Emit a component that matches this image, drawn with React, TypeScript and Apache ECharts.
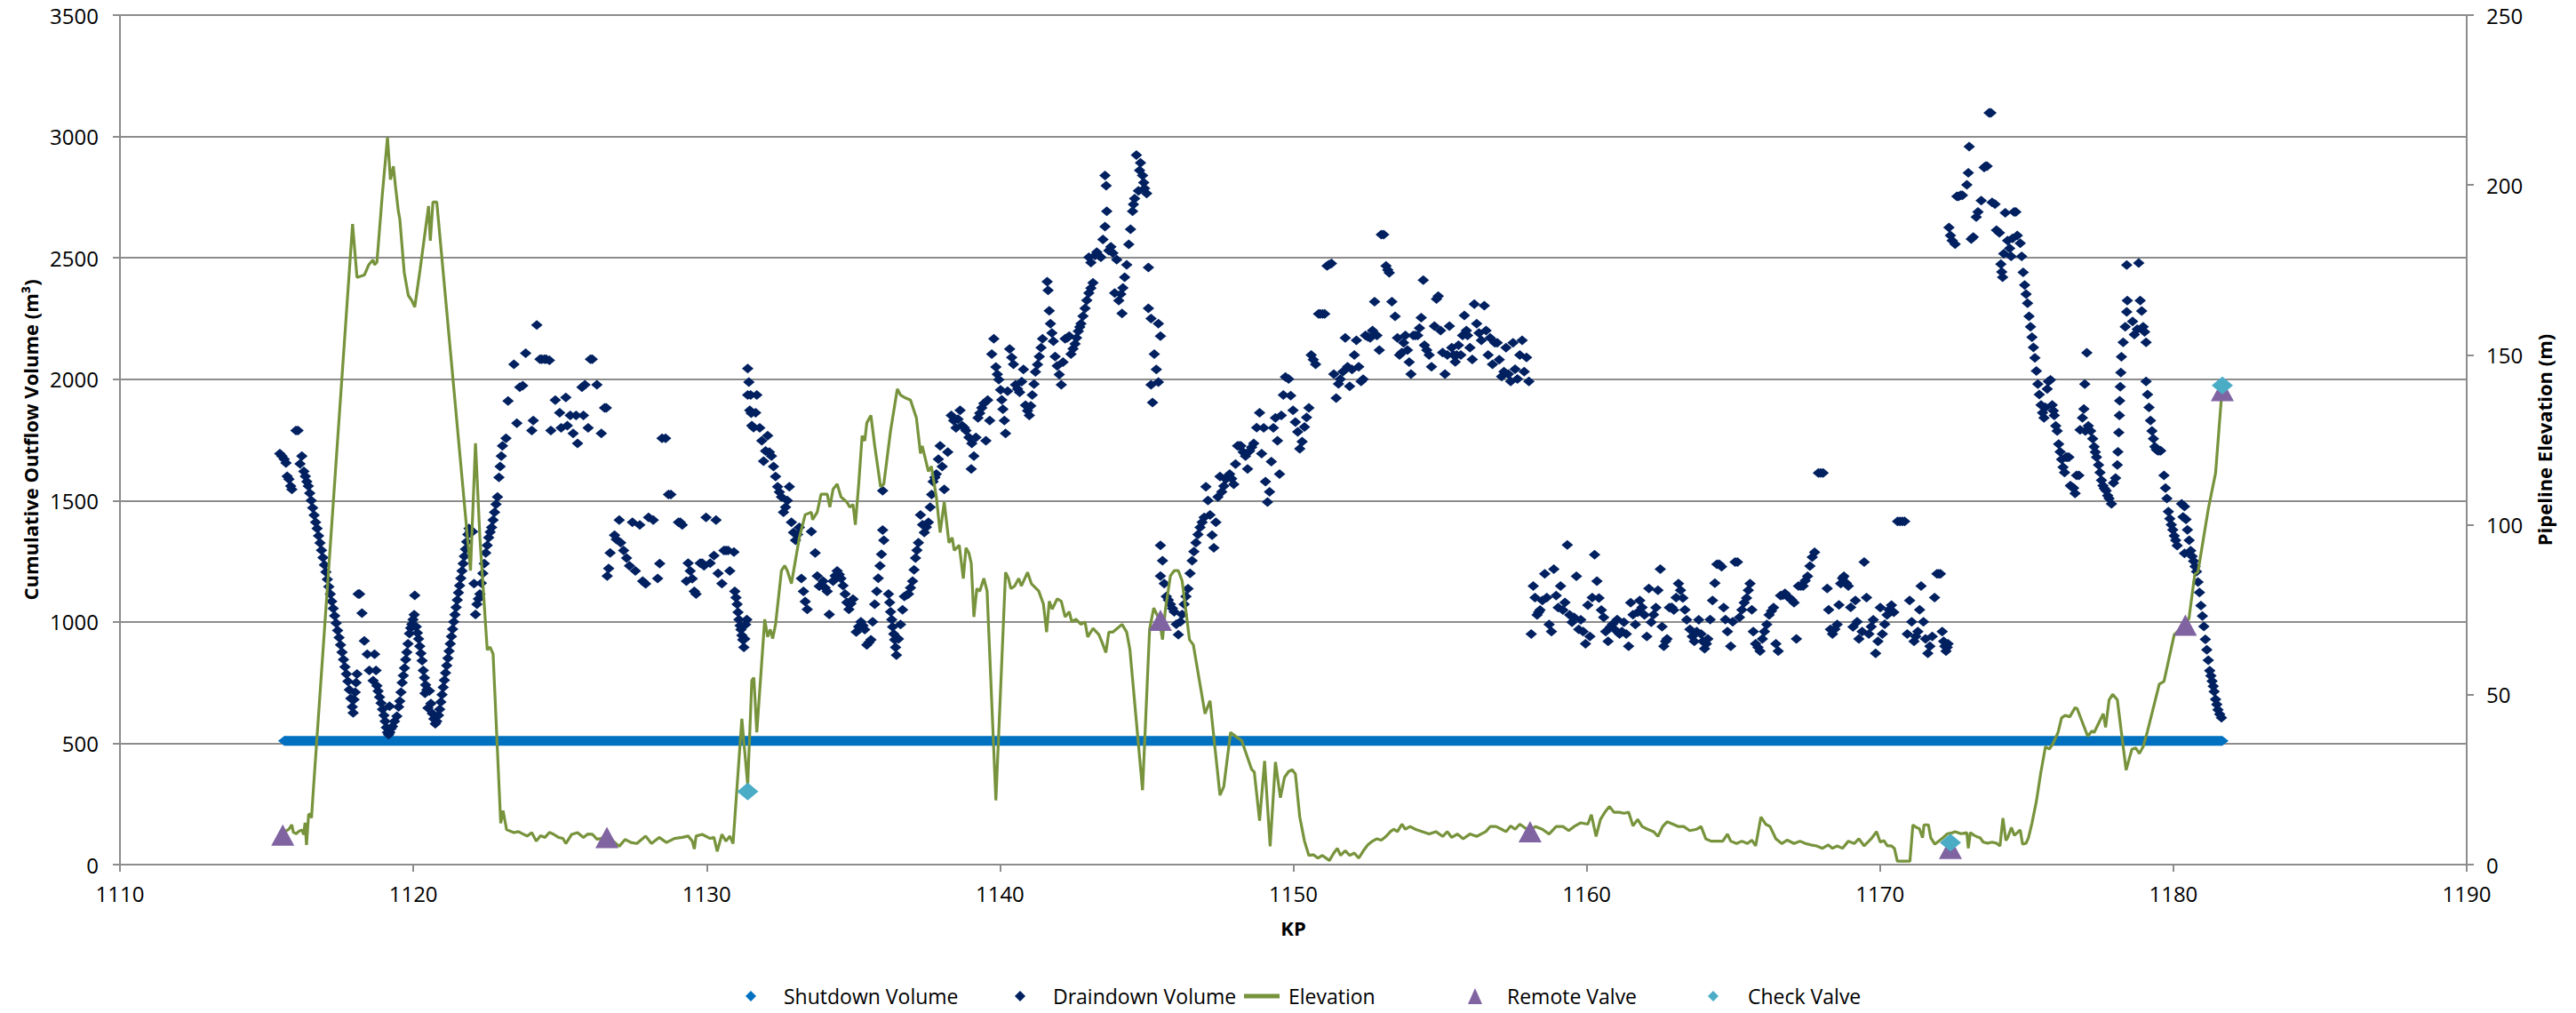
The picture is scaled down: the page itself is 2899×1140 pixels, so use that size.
import React, { useEffect, useRef } from "react";
import * as echarts from "echarts";

// ---- Axis ranges ----
const KP_MIN = 1110;
const KP_MAX = 1190;
const KP_STEP = 10;
const VOL_MIN = 0;
const VOL_MAX = 3500;
const VOL_STEP = 500;
const ELEV_MIN = 0;
const ELEV_MAX = 250;
const ELEV_STEP = 50;

// ---- Shutdown volume (constant along the pipeline) ----
const shutdownVolume = 510;
const shutdownKpRange = [1115.6, 1181.67];

// ---- Draindown volume [KP, m3] ----
const draindownA = [
  [1115.45,1693],[1115.52,1683],[1115.6,1670],[1115.66,1655],[1115.7,1600],[1115.76,1588],[1115.82,1560],[1115.86,1546],
  [1116.0,1788],[1116.07,1788],[1116.14,1651],[1116.2,1683],[1116.27,1620],[1116.32,1600],[1116.37,1578],[1116.42,1560],
  [1116.47,1530],[1116.52,1500],[1116.57,1470],[1116.62,1440],[1116.67,1410],[1116.72,1385],[1116.77,1355],[1116.82,1325],
  [1116.87,1295],[1116.92,1265],[1116.97,1235],[1117.02,1205],[1117.07,1175],[1117.12,1145],[1117.17,1115],[1117.22,1085],
  [1117.27,1055],[1117.32,1025],[1117.37,995],[1117.42,965],[1117.47,935],[1117.52,905],[1117.57,875],[1117.62,845],
  [1117.67,815],[1117.72,785],[1117.77,755],[1117.82,720],[1117.87,685],[1117.92,650],[1117.95,625],
  [1117.98,680],[1118.02,710],[1118.05,750],[1118.08,785],
  [1118.12,1115],[1118.17,1115],[1118.25,1036],[1118.33,922],[1118.43,867],[1118.5,800],[1118.63,758],[1118.68,867],[1118.73,800],[1118.76,737],
  [1118.8,715],[1118.85,690],[1118.9,665],[1118.95,640],[1119.0,615],[1119.04,590],[1119.08,565],[1119.12,545],[1119.16,535],[1119.2,545],
  [1119.24,560],[1119.19,653],[1119.29,569],[1119.36,590],[1119.44,611],
  [1119.5,650],[1119.54,674],[1119.58,710],[1119.62,750],[1119.66,779],[1119.7,810],[1119.74,845],[1119.78,875],[1119.82,910],
  [1119.87,952],[1119.91,975],[1119.95,990],[1119.99,1010],[1120.03,1030],[1120.05,1109],
  [1120.1,980],[1120.14,955],[1120.18,930],[1120.22,900],[1120.26,870],[1120.3,840],[1120.34,800],[1120.38,770],[1120.42,740],
  [1120.46,720],[1120.4,706],[1120.55,716],[1120.5,645],[1120.6,664],[1120.65,622],[1120.7,600],[1120.75,580],[1120.8,590],
  [1120.86,615],[1120.9,640],[1120.94,670],[1120.98,700],[1121.02,730],[1121.06,760],[1121.1,790],[1121.14,820],[1121.18,850],
  [1121.22,880],[1121.26,910],[1121.3,940],[1121.34,970],[1121.38,1000],[1121.42,1030],[1121.46,1060],[1121.5,1090],
  [1121.54,1120],[1121.58,1150],[1121.62,1180],[1121.66,1210],[1121.7,1240],[1121.74,1270],[1121.78,1300],[1121.82,1330],
  [1121.86,1360],[1121.9,1385],[1121.94,1372],
  [1122.02,1372],[1122.07,1158],[1122.12,1031],[1122.17,1073],
  [1122.22,1095],[1122.27,1115],[1122.32,1160],[1122.37,1200],[1122.42,1240],[1122.47,1284],[1122.52,1315],[1122.57,1347],
  [1122.62,1370],[1122.67,1389],[1122.72,1420],[1122.77,1452],[1122.82,1485],[1122.87,1515],[1122.92,1595],[1122.96,1640],
  [1123.0,1683],[1123.04,1725],[1123.16,1756],[1123.23,1910],[1123.43,2061],[1123.53,1819],[1123.63,1967],[1123.73,1973],
  [1123.83,2107],[1124.04,1788],[1124.09,1830],[1124.21,2223],[1124.32,2082],[1124.38,2082],[1124.47,2082],[1124.53,2082],
  [1124.64,2078],[1124.69,1788],[1124.84,1914],[1124.99,1862],[1125.04,1799],[1125.2,1925],[1125.25,1809],[1125.35,1851],
  [1125.45,1777],[1125.55,1851],[1125.6,1735],[1125.75,1967],[1125.8,1851],[1125.85,1977],[1125.96,1799],[1126.04,2082],
  [1126.1,2082],[1126.26,1977],[1126.41,1777],[1126.52,1882],[1126.58,1882],
  [1126.61,1189],[1126.66,1220],[1126.71,1284],[1126.86,1357],[1126.92,1340],[1127.02,1420],[1127.07,1326],[1127.17,1294],
  [1127.27,1263],[1127.37,1231],[1127.47,1410],[1127.57,1210],[1127.72,1399],[1127.82,1168],[1127.92,1157],[1128.02,1431],
  [1128.18,1420],[1128.33,1179],[1128.4,1240],[1128.48,1756],[1128.6,1756],[1128.7,1525],[1128.78,1525]
];

const draindownB = [
  [1129.04,1410],[1129.1,1410],[1129.17,1399],[1129.31,1168],[1129.37,1242],[1129.44,1210],[1129.51,1178],[1129.58,1126],
  [1129.64,1115],[1129.78,1242],[1129.85,1242],[1129.91,1231],[1129.98,1431],[1130.12,1242],[1130.25,1273],[1130.32,1420],
  [1130.39,1200],[1130.52,1158],[1130.59,1294],[1130.66,1294],[1130.73,1294],[1130.79,1210],[1130.93,1288],
  [1130.96,1126],[1131.0,1100],[1131.04,1073],[1131.07,1040],[1131.1,1010],[1131.14,985],[1131.17,968],[1131.2,945],
  [1131.23,926],[1131.27,895],[1131.3,930],[1131.33,989],[1131.37,1010],
  [1131.4,2044],[1131.44,1988],[1131.4,1935],[1131.5,1935],[1131.71,1935],[1131.47,1872],[1131.52,1860],[1131.67,1862],
  [1131.54,1809],[1131.6,1800],[1131.81,1799],[1131.88,1746],[1131.94,1662],[1132.01,1704],[1132.08,1767],[1132.14,1700],
  [1132.21,1683],[1132.28,1640],[1132.35,1599],[1132.42,1557],[1132.48,1535],[1132.55,1515],[1132.62,1452],[1132.69,1473],
  [1132.75,1500],[1132.82,1557],[1132.89,1410],[1132.96,1368],[1133.03,1336],[1133.1,1360],[1133.16,1389],[1133.23,1179],
  [1133.3,1126],[1133.36,1084],[1133.43,1052],[1133.57,1372],[1133.7,1284],[1133.77,1189],[1133.84,1147],[1133.97,1168],
  [1134.04,1140],[1134.11,1126],[1134.18,1031],[1134.31,1168],[1134.38,1190],[1134.45,1210],[1134.52,1195],[1134.58,1179],
  [1134.65,1150],[1134.72,1115],[1134.78,1080],[1134.85,1052],[1134.92,1075],[1134.99,1094],[1135.1,958],[1135.18,980],
  [1135.26,1000],[1135.33,985],[1135.39,968],[1135.46,905],[1135.53,915],[1135.6,926],[1135.66,1000],[1135.73,1073],
  [1135.8,1126],[1135.85,1180],[1135.91,1231],[1135.96,1279],[1136.0,1378],[1136.04,1336],[1136.0,1540],
  [1136.2,1115],[1136.24,1080],[1136.27,1042],[1136.31,1010],[1136.34,979],[1136.38,950],[1136.41,926],[1136.44,895],
  [1136.47,863],[1136.54,930],[1136.61,989],[1136.68,1050],[1136.74,1105],[1136.81,1110],[1136.88,1115],[1136.95,1140],
  [1137.02,1168],[1137.07,1215],[1137.12,1263],[1137.17,1295],[1137.22,1326],[1137.29,1441],[1137.36,1400],[1137.42,1368],
  [1137.49,1390],[1137.56,1410],[1137.62,1473],[1137.67,1525],[1137.72,1578],[1137.78,1595],[1137.83,1609],[1137.9,1670],
  [1137.96,1725],[1138.03,1640],[1138.1,1546],[1138.22,1700],[1138.34,1851],[1138.42,1830],[1138.5,1799],[1138.57,1835],
  [1138.64,1872],[1138.71,1809],[1138.78,1800],[1138.84,1788],[1138.94,1760],[1139.02,1630],[1139.04,1735],[1139.11,1683],
  [1139.18,1760],[1139.25,1841],[1139.31,1860],[1139.38,1882],[1139.45,1900],[1139.52,1746],[1139.58,1914],[1139.65,1830],
  [1139.72,2103],[1139.79,2166],[1139.86,2050],[1139.91,2020],[1139.96,1998],[1140.02,1956],[1140.06,1915],[1140.1,1876],
  [1140.15,1830],[1140.19,1777],[1140.26,1950],[1140.33,2124],[1140.4,2090],[1140.46,2061],[1140.53,1977],[1140.6,1960],
  [1140.67,1946],[1140.74,1990],[1140.8,2040],[1140.87,1893],[1140.94,1870],[1141.0,1851],[1141.05,1890],[1141.1,1935],
  [1141.16,1980],[1141.21,2030],[1141.28,2060],[1141.34,2093],[1141.4,2130],[1141.45,2166],[1141.61,2402],[1141.64,2366],
  [1141.68,2282],[1141.72,2229],[1141.77,2190],[1141.82,2156],[1141.88,2093],[1141.95,2055],[1142.02,2019],[1142.09,1977],
  [1142.15,2070],[1142.22,2166],[1142.29,2170],[1142.36,2177],[1142.42,2103],[1142.49,2125],[1142.56,2145],[1142.61,2170],
  [1142.67,2198],[1142.72,2215],[1142.76,2229],[1142.83,2260],[1142.9,2292],[1142.96,2325],[1143.03,2355],[1143.1,2375],
  [1143.17,2397],[1143.03,2502],[1143.1,2480],[1143.24,2510],[1143.3,2523],[1143.37,2510],[1143.44,2502],[1143.51,2576],
  [1143.58,2629],[1143.58,2839],[1143.62,2797],[1143.64,2692],[1143.71,2530],[1143.78,2545],[1143.85,2520],[1143.91,2355],
  [1143.98,2492],[1144.05,2324],[1144.12,2350],[1144.16,2271],[1144.19,2376],[1144.25,2420],[1144.32,2471],[1144.39,2555],
  [1144.45,2618],[1144.52,2692],[1144.55,2720],[1144.59,2744],[1144.65,2923],[1144.72,2776],[1144.76,2860],[1144.79,2891],
  [1144.86,2839],[1144.9,2810],[1144.93,2786],[1145.0,2765],[1145.06,2460],[1145.06,2292],[1145.15,2250],[1145.2,1904],
  [1145.15,1977],[1145.26,2103],[1145.33,2040],[1145.4,2229],[1145.4,1988],[1145.47,2177],
  [1145.47,1315],[1145.54,1252],[1145.47,1189],[1145.6,1158],[1145.67,1105],[1145.74,1090],[1145.81,1073],[1145.88,1055],
  [1145.94,1042],[1146.01,990],[1146.08,947],[1146.15,1000],[1146.21,1031],[1146.28,1073],[1146.34,1105],[1146.41,1137],
  [1146.48,1200],[1146.55,1252],[1146.61,1290],[1146.68,1326],[1146.75,1360],[1146.82,1389],[1146.89,1410],[1146.96,1431],
  [1147.02,1557],[1147.09,1500],[1147.16,1441],[1147.23,1357],[1147.29,1305],[1147.36,1410],[1147.43,1515],[1147.5,1599],
  [1147.56,1536],[1147.63,1560],[1147.7,1588],[1147.77,1600],[1147.83,1609],[1147.9,1590],[1147.97,1567],[1148.03,1650],
  [1148.1,1725],[1148.16,1725],[1148.21,1725],[1148.29,1700],[1148.37,1683],[1148.44,1630],[1148.51,1704],[1148.58,1720],
  [1148.65,1735],[1148.75,1800],[1148.85,1862],[1148.92,1693],[1148.99,1799],[1149.05,1578],[1149.12,1494],[1149.19,1536],
  [1149.25,1660],[1149.32,1799],[1149.39,1841],[1149.46,1746],[1149.53,1609],[1149.59,1851],[1149.66,1935],[1149.73,2009]
];

const draindownC = [
  [1149.84,2001],[1149.91,1932],[1149.99,1872],[1150.07,1823],[1150.15,1783],[1150.22,1713],[1150.3,1743],[1150.38,1803],
  [1150.45,1842],[1150.53,1882],[1150.61,2100],[1150.68,2080],[1150.76,2061],[1150.86,2269],[1150.92,2269],[1151.0,2269],
  [1151.07,2269],[1151.15,2467],[1151.22,2472],[1151.3,2477],[1151.38,2021],[1151.46,1922],[1151.54,1981],[1151.6,2000],
  [1151.69,2031],[1151.77,2170],[1151.85,2051],[1151.92,1971],[1152.0,2040],[1152.08,2100],[1152.15,2160],[1152.23,2051],
  [1152.31,1991],[1152.38,2000],[1152.46,2180],[1152.54,2175],[1152.62,2170],[1152.7,2200],[1152.77,2319],[1152.85,2180],
  [1152.93,2120],[1153.0,2596],[1153.08,2596],[1153.16,2467],[1153.22,2450],[1153.27,2438],[1153.36,2319],[1153.47,2259],
  [1153.55,2170],[1153.62,2100],[1153.7,2110],[1153.76,2150],[1153.82,2180],[1153.89,2120],[1153.95,2070],[1154.01,2021],
  [1154.09,2180],[1154.16,2180],[1154.24,2180],[1154.3,2210],[1154.36,2253],[1154.43,2408],[1154.47,2140],[1154.55,2120],
  [1154.63,2100],[1154.71,2051],[1154.81,2219],[1154.88,2330],[1154.94,2342],[1155.02,2200],[1155.09,2110],[1155.17,2021],
  [1155.25,2100],[1155.32,2219],[1155.4,2130],[1155.46,2100],[1155.52,2071],[1155.57,2100],[1155.63,2140],[1155.71,2100],
  [1155.77,2180],[1155.83,2263],[1155.9,2200],[1155.94,2180],[1156.02,2130],[1156.1,2081],[1156.17,2309],[1156.25,2229],
  [1156.33,2190],[1156.41,2160],[1156.51,2303],[1156.57,2200],[1156.64,2100],[1156.71,2170],[1156.79,2061],[1156.87,2150],
  [1156.95,2150],[1157.02,2080],[1157.1,2011],[1157.18,2031],[1157.25,2130],[1157.33,2021],[1157.41,1991],[1157.49,2150],
  [1157.56,2041],[1157.64,2001],[1157.72,2100],[1157.8,2160],[1157.87,2031],[1157.95,2090],[1158.03,1991]
];

const draindownD = [
  [1158.11,950],[1158.18,1148],[1158.24,1100],[1158.31,1029],[1158.36,1040],[1158.41,1049],[1158.49,1088],[1158.57,1198],
  [1158.64,1100],[1158.72,989],[1158.8,960],[1158.88,1217],[1158.96,1108],[1159.03,1059],[1159.11,1148],[1159.19,1049],
  [1159.26,1080],[1159.34,1317],[1159.42,1029],[1159.5,999],[1159.57,1019],[1159.65,1188],[1159.73,969],[1159.8,1009],
  [1159.88,960],[1159.96,910],[1160.04,1069],[1160.11,940],[1160.19,1100],[1160.27,1277],[1160.35,1168],[1160.42,1098],
  [1160.5,1049],[1160.58,1019],[1160.65,960],[1160.73,920],[1160.81,979],[1160.88,990],[1160.95,969],[1161.04,1010],
  [1161.12,950],[1161.2,960],[1161.27,999],[1161.35,950],[1161.43,900],[1161.5,1079],[1161.58,1030],[1161.66,989],
  [1161.74,1040],[1161.81,1088],[1161.89,1060],[1161.97,1029],[1162.05,940],[1162.12,1138],[1162.2,999],[1162.28,1030],
  [1162.36,1059],[1162.43,1130],[1162.51,1217],[1162.57,980],[1162.63,900],[1162.69,920],[1162.74,930],[1162.82,1059],
  [1162.9,1060],[1162.97,1049],[1163.05,1100],[1163.13,1158],[1163.2,1130],[1163.28,1098],[1163.35,1050],[1163.41,1009],
  [1163.52,969],[1163.6,940],[1163.67,920],[1163.75,960],[1163.82,1009],[1163.9,950],[1163.96,920],[1164.02,890],
  [1164.08,910],[1164.13,930],[1164.21,1010],[1164.29,1088],[1164.37,1160],[1164.44,1237],[1164.52,1237],[1164.6,1227],
  [1164.67,1059],[1164.73,1010],[1164.8,960],[1164.91,900],[1164.98,1000],[1165.06,1247],[1165.14,1247],[1165.21,1019],
  [1165.29,1050],[1165.37,1079],[1165.45,1098],[1165.51,1130],[1165.57,1158],[1165.63,1050],[1165.68,960],[1165.76,910],
  [1165.84,895],[1165.91,880],[1165.99,930],[1166.06,960],[1166.14,989],[1166.22,1029],[1166.3,1045],[1166.37,1059],
  [1166.45,910],[1166.53,880],[1166.61,1108],[1166.69,1110],[1166.76,1118],[1166.84,1105],[1166.92,1098],[1166.99,1090],
  [1167.07,1079],[1167.15,930],[1167.22,1148],[1167.3,1148],[1167.38,1148],[1167.45,1170],[1167.53,1188],[1167.61,1230],
  [1167.69,1267],[1167.77,1287],[1167.9,1614],[1167.98,1614],[1168.06,1614],[1168.2,1138],[1168.25,1050],[1168.31,969],
  [1168.38,950],[1168.46,970],[1168.54,989],[1168.6,1070],[1168.66,1158],[1168.72,1180],[1168.77,1188],[1168.85,1160],
  [1168.92,1148],[1169.0,1060],[1169.08,979],[1169.16,1088],[1169.22,1000],[1169.28,930],[1169.39,960],[1169.46,1247],
  [1169.54,1100],[1169.62,950],[1169.7,980],[1169.77,1009],[1169.85,870],[1169.93,920],[1170.01,1059],[1170.08,950],
  [1170.16,990],[1170.24,1029],[1170.31,1050],[1170.39,1069],[1170.47,1040],[1170.6,1414],[1170.68,1414],[1170.76,1414],
  [1170.84,1414],[1170.93,950],[1171.01,1088],[1171.08,1000],[1171.16,920],[1171.22,940],[1171.29,960],[1171.35,1050],
  [1171.4,1148],[1171.48,1000],[1171.55,930],[1171.63,870],[1171.7,900],[1171.78,940],[1171.86,1100],[1171.94,1198],
  [1172.0,1198],[1172.06,1198],[1172.12,960],[1172.17,920],[1172.21,900],[1172.25,880],[1172.29,895],[1172.32,910]
];

const draindownE = [
  [1172.35,2625],[1172.4,2592],[1172.46,2571],[1172.56,2556],[1172.62,2753],[1172.68,2753],[1172.75,2758],[1172.81,2758],
  [1172.96,2801],[1173.01,2850],[1173.04,2958],[1173.11,2577],[1173.18,2586],[1173.28,2668],[1173.34,2689],[1173.45,2736],
  [1173.55,2872],[1173.6,2878],[1173.65,2878],[1173.72,3097],[1173.78,3097],[1173.82,2728],[1173.92,2721],[1173.97,2614],
  [1174.07,2603],[1174.12,2474],[1174.15,2442],[1174.18,2420],[1174.22,2517],[1174.27,2685],[1174.35,2571],[1174.42,2539],
  [1174.47,2506],[1174.52,2580],[1174.57,2689],[1174.63,2689],[1174.68,2592],[1174.78,2560],[1174.83,2506],[1174.88,2440],
  [1174.93,2388],[1174.98,2350],[1175.03,2313],[1175.08,2259],[1175.13,2216],[1175.18,2173],[1175.23,2131],[1175.28,2088],
  [1175.33,2034],[1175.38,1980],[1175.43,1937],[1175.49,1894],[1175.54,1862],[1175.59,1841],[1175.64,1884],[1175.7,1960],
  [1175.74,1991],[1175.81,1997],[1175.87,1894],[1175.91,1870],[1175.94,1851],[1175.99,1808],[1176.04,1787],[1176.09,1733],
  [1176.14,1701],[1176.19,1669],[1176.24,1637],[1176.29,1615],[1176.34,1679],[1176.39,1679],[1176.44,1679],[1176.49,1561],
  [1176.55,1555],[1176.6,1551],[1176.65,1529],[1176.7,1604],[1176.78,1604],[1176.82,1791],[1176.9,1841],[1176.95,1877],
  [1176.98,1980],[1177.05,2109],[1177.0,1787],[1177.1,1808],[1177.18,1787],[1177.25,1755],[1177.3,1722],[1177.34,1700],
  [1177.38,1679],[1177.45,1647],[1177.5,1615],[1177.55,1583],[1177.6,1561],[1177.65,1550],[1177.71,1540],[1177.76,1520],
  [1177.81,1508],[1177.89,1486],[1177.96,1572],[1178.03,1593],[1178.09,1647],[1178.11,1701],[1178.14,1780],[1178.16,1851],
  [1178.17,1911],[1178.19,1969],[1178.21,2027],[1178.23,2092],[1178.29,2152],[1178.36,2216],[1178.41,2277],[1178.43,2324],
  [1178.41,2470],[1178.61,2238],[1178.67,2184],[1178.77,2206],[1178.82,2479],[1178.87,2324],[1178.92,2281],[1178.97,2216],
  [1179.02,2195],[1179.07,2152],[1179.07,1991],[1179.12,1937],[1179.17,1884],[1179.22,1830],[1179.27,1787],[1179.32,1755],
  [1179.37,1722],[1179.42,1710],[1179.47,1705],[1179.52,1705],[1179.57,1705],[1179.68,1604],[1179.73,1551],[1179.78,1508],
  [1179.83,1454],[1179.88,1425],[1179.93,1400],[1179.98,1379],[1180.03,1355],[1180.08,1336],[1180.13,1314],[1180.28,1486],
  [1180.38,1475],[1180.33,1432],[1180.43,1422],[1180.48,1379],[1180.54,1336],[1180.38,1282],[1180.59,1293],[1180.64,1270],
  [1180.69,1250],[1180.74,1228],[1180.79,1207],[1180.84,1164],[1180.89,1121],[1180.94,1067],[1180.99,1024],[1181.04,981],
  [1181.09,928],[1181.14,885],[1181.19,842],[1181.24,799],[1181.28,778],[1181.32,756],[1181.36,735],[1181.39,713],
  [1181.44,681],[1181.48,660],[1181.52,638],[1181.58,620],[1181.64,605]
];

// ---- Pipeline elevation [KP, m] ----
const elevationA = [
  [1115.55,9.0],[1115.66,9.9],[1115.76,10.4],[1115.86,11.7],[1115.91,9.5],[1116.01,9.1],[1116.11,9.9],[1116.21,10.2],
  [1116.26,8.8],[1116.31,12.3],[1116.36,5.8],[1116.43,14.7],[1116.49,14.9],[1116.53,13.7],[1116.58,20.4],[1117.93,188.5],
  [1118.08,172.8],[1118.33,173.5],[1118.48,176.5],[1118.63,178.0],[1118.68,176.5],[1118.76,177.3],[1118.94,196.8],
  [1119.12,214.0],[1119.22,201.6],[1119.32,205.5],[1119.39,199.8],[1119.49,192.3],[1119.54,190.0],[1119.69,174.3],
  [1119.83,167.5],[1119.95,166.0],[1120.05,164.1],[1120.23,175.0],[1120.52,193.8],[1120.58,183.6],[1120.67,195.0],
  [1120.8,195.0],[1121.95,86.5],[1122.12,124.0],[1122.27,96.2],[1122.52,63.2],[1122.62,64.0],[1122.72,62.0],[1122.98,12.2],
  [1123.06,15.9],[1123.18,10.3],[1123.43,9.4],[1123.58,9.7],[1123.88,8.4],[1124.04,9.4],[1124.19,6.9],[1124.34,8.5],
  [1124.49,8.0],[1124.64,9.5],[1124.79,8.9],[1124.95,8.0],[1125.1,7.7],[1125.2,6.2],[1125.4,8.9],[1125.6,9.4],[1125.8,8.0],
  [1125.95,9.0],[1126.11,8.9],[1126.26,7.5],[1126.41,7.7],[1126.61,8.9],[1126.8,7.0],[1127.02,5.4],[1127.22,7.4],
  [1127.42,6.5],[1127.62,6.2],[1127.8,7.5],[1127.92,8.4],[1128.12,6.2],[1128.38,8.0],[1128.63,6.5]
];

const elevationB = [
  [1128.9,7.7],[1129.17,8.0],[1129.37,8.4],[1129.51,6.9],[1129.58,4.6],[1129.64,8.4],[1129.85,8.9],[1130.12,7.7],
  [1130.25,8.0],[1130.36,3.9],[1130.52,8.9],[1130.66,6.9],[1130.79,8.4],[1130.9,6.2],[1131.2,42.9],[1131.4,23.4],
  [1131.54,54.2],[1131.61,55.0],[1131.71,38.9],[1131.98,72.2],[1132.08,67.0],[1132.17,69.2],[1132.25,66.5],[1132.35,70.7],
  [1132.55,86.5],[1132.66,88.0],[1132.75,86.5],[1132.89,82.7],[1133.16,96.2],[1133.36,103.0],[1133.57,103.7],
  [1133.61,101.5],[1133.77,103.7],[1133.9,109.0],[1134.11,109.0],[1134.2,105.2],[1134.31,110.5],[1134.45,112.0],
  [1134.58,108.2],[1134.78,106.7],[1134.88,105.2],[1134.99,106.0],[1135.07,100.0],[1135.19,112.7],[1135.3,126.2],
  [1135.39,124.7],[1135.46,130.0],[1135.6,132.2],[1135.73,123.2],[1135.93,111.2],[1136.04,112.0],[1136.27,127.7],
  [1136.5,140.0],[1136.61,138.2],[1136.74,137.5],[1136.95,136.7],[1137.15,131.5],[1137.29,121.0],[1137.35,123.2],
  [1137.56,115.7],[1137.66,117.2],[1137.83,108.2],[1137.96,97.7],[1138.1,106.7],[1138.26,94.7],[1138.37,96.2],
  [1138.44,92.5],[1138.61,94.0],[1138.75,84.2],[1138.84,93.2],[1138.94,91.7],[1139.02,88.7],[1139.11,72.9],[1139.21,81.2],
  [1139.31,80.5],[1139.45,84.2],[1139.56,80.5],[1139.86,18.9],[1140.19,86.0],[1140.29,84.2],[1140.37,81.2],[1140.5,82.0],
  [1140.64,84.2],[1140.73,82.0],[1140.94,86.0],[1141.07,82.7],[1141.32,80.5],[1141.48,76.7],[1141.59,68.4],[1141.68,77.5],
  [1141.78,75.2],[1141.95,78.2],[1142.09,77.5],[1142.22,72.9],[1142.36,74.4],[1142.45,71.4],[1142.59,72.2],[1142.76,70.7],
  [1142.9,71.4],[1142.99,67.0],[1143.17,69.5],[1143.37,67.7],[1143.48,65.4],[1143.61,62.4],[1143.71,68.4],[1143.84,68.4],
  [1144.05,69.9],[1144.16,70.7],[1144.32,68.4],[1144.43,63.2],[1144.86,21.9],[1145.1,69.2],[1145.24,75.5],[1145.43,72.2],
  [1145.54,66.2],[1145.64,75.2],[1145.81,85.0],[1145.94,86.5],[1146.08,86.5],[1146.21,83.5],[1146.46,66.2],[1146.59,64.7],
  [1146.99,44.4],[1147.16,48.2],[1147.5,20.4],[1147.63,23.0],[1147.86,38.9],[1148.04,37.7],[1148.24,36.5],[1148.58,28.0],
  [1148.67,27.2],[1148.85,12.9],[1149.02,30.5],[1149.21,5.4],[1149.39,30.2],[1149.56,19.7],[1149.7,25.7]
];

const elevationC = [
  [1149.84,27.4],[1149.96,27.9],[1150.07,26.7],[1150.22,14.0],[1150.38,6.9],[1150.53,2.7],[1150.69,2.9],[1150.84,1.9],
  [1150.99,2.7],[1151.23,1.2],[1151.38,3.4],[1151.5,4.8],[1151.61,2.7],[1151.77,4.1],[1151.92,2.7],[1152.08,3.4],
  [1152.23,1.9],[1152.39,4.1],[1152.54,5.8],[1152.7,6.9],[1152.85,7.6],[1153.0,7.2],[1153.16,8.3],[1153.31,9.7],
  [1153.42,10.4],[1153.55,9.7],[1153.7,11.9],[1153.82,10.4],[1153.98,11.2],[1154.16,10.4],[1154.4,9.7],[1154.63,9.0],
  [1154.86,9.7],[1155.09,8.3],[1155.25,9.7],[1155.4,8.0],[1155.59,9.0],[1155.79,7.6],[1156.02,9.0],[1156.25,8.3],
  [1156.4,9.0],[1156.56,9.7],[1156.71,11.2],[1156.91,11.2],[1157.1,10.4],[1157.25,9.7],[1157.41,11.4],[1157.56,10.4],
  [1157.72,11.9],[1158.03,10.0],[1158.26,11.2],[1158.49,10.4],[1158.72,9.0],[1158.96,11.2],[1159.19,11.2],[1159.39,10.0],
  [1159.57,11.2],[1159.8,12.3],[1160.04,11.9],[1160.16,14.7],[1160.32,8.3],[1160.47,13.3],[1160.62,15.4],[1160.78,17.1],
  [1160.93,15.4],[1161.12,15.4],[1161.27,15.1],[1161.43,15.4],[1161.58,11.4],[1161.74,13.3],[1161.89,11.2],[1162.08,10.4],
  [1162.28,9.7],[1162.43,8.3],[1162.59,11.2],[1162.74,12.6],[1162.94,11.9],[1163.13,11.2],[1163.31,11.2],[1163.51,10.0],
  [1163.75,10.4],[1163.9,11.2],[1164.06,7.6],[1164.24,6.9],[1164.44,6.9],[1164.64,6.9],[1164.8,9.0],[1164.91,6.9],
  [1165.11,6.2],[1165.29,6.9],[1165.48,6.2],[1165.63,7.2],[1165.76,5.5],[1165.94,14.0],[1166.1,11.9],[1166.25,11.2],
  [1166.45,7.6],[1166.65,6.2],[1166.84,7.2],[1167.07,6.2],[1167.27,6.9],[1167.46,6.2],[1167.64,5.8],[1167.84,5.5],
  [1168.04,4.8],[1168.23,5.8],[1168.38,4.8],[1168.54,5.5],[1168.72,4.8],[1168.92,6.9],[1169.12,6.2],[1169.28,7.6],
  [1169.46,5.5],[1169.7,7.6],[1169.88,9.7]
];

const elevationD = [
  [1170.01,6.6],[1170.13,7.1],[1170.25,5.5],[1170.39,5.5],[1170.49,4.8],[1170.59,1.0],[1171.02,1.0],[1171.12,11.7],
  [1171.24,10.9],[1171.34,10.6],[1171.45,7.9],[1171.5,11.7],[1171.65,11.7],[1171.73,7.9],[1171.87,6.0],[1172.15,7.9],
  [1172.3,9.1],[1172.48,9.4],[1172.56,9.7],[1172.76,9.1],[1172.96,9.4],[1173.01,4.8],[1173.08,9.4],[1173.21,8.6],
  [1173.31,8.2],[1173.41,7.9],[1173.52,6.6],[1173.67,6.3],[1173.82,6.6],[1173.97,6.3],[1174.09,5.5],[1174.19,13.7],
  [1174.29,7.1],[1174.35,7.9],[1174.48,10.9],[1174.58,8.6],[1174.68,9.4],[1174.78,10.2],[1174.86,6.0],[1174.98,6.3],
  [1175.06,7.9],[1175.18,12.2],[1175.33,18.6],[1175.48,27.0],[1175.64,34.7],[1175.77,34.0],[1175.89,35.5],[1176.07,38.9],
  [1176.19,43.2],[1176.31,43.9],[1176.47,43.5],[1176.65,46.2],[1176.72,45.9],[1177.08,37.8],[1177.22,39.3],[1177.3,38.9],
  [1177.61,44.4],[1177.69,40.4],[1177.81,48.5],[1177.93,50.1],[1178.09,48.5],[1178.39,27.8],[1178.51,31.6],[1178.59,34.0],
  [1178.72,34.3],[1178.84,32.7],[1178.97,34.7],[1179.12,39.3],[1179.52,53.1],[1179.68,53.9],[1180.03,67.7],[1180.13,68.5],
  [1180.53,72.3],[1180.73,85.4],[1180.84,86.2],[1181.19,104.6],[1181.44,115.3],[1181.64,137.6]
];

// ---- Valves [KP, elevation m] ----
const remoteValves = [
  [1115.55, 8.7],[1126.6, 8.0],[1145.47, 71.9],[1158.07, 9.7],[1172.4, 4.8],[1180.41, 70.5],[1181.67, 139.5]
];
const checkValves = [
  [1131.4, 21.5],[1172.4, 6.5],[1181.67, 141.0]
];

const draindownVolume = [...draindownA, ...draindownB, ...draindownC, ...draindownD, ...draindownE];
const elevation = [...elevationA, ...elevationB, ...elevationC, ...elevationD];

const FONT = "'Open Sans', 'Liberation Sans', sans-serif";
const GRID_COLOR = "#8c8c8c";

export default function App() {
  const ref = useRef<HTMLDivElement>(null);

  useEffect(() => {
    if (!ref.current) return;
    const chart = echarts.init(ref.current, null, { renderer: "svg" });

    const legendText = (padLeft: number) => ({
      fontSize: 23,
      color: "#000",
      fontFamily: FONT,
      lineHeight: 28,
      padding: [0, 0, 0, padLeft],
    });
    const legendBase = {
      orient: "horizontal",
      top: 1107,
      padding: 0,
      selectedMode: false,
    };

    const axisLabelStyle = {
      fontSize: 24,
      color: "#000",
      fontFamily: FONT,
      formatter: (v: number) => String(v),
    };
    const nameStyle = { fontSize: 22, color: "#000", fontWeight: "bold", fontFamily: FONT };

    chart.setOption({
      animation: false,
      backgroundColor: "#fff",
      textStyle: { fontFamily: FONT },
      grid: { left: 135, right: 123, top: 17, bottom: 167, containLabel: false },
      legend: [
        {
          ...legendBase, left: 839, itemWidth: 12, itemHeight: 12,
          textStyle: legendText(26),
          data: [{ name: "Shutdown Volume", icon: "diamond" }],
        },
        {
          ...legendBase, left: 1142, itemWidth: 12, itemHeight: 12,
          textStyle: legendText(26),
          data: [{ name: "Draindown Volume", icon: "diamond" }],
        },
        {
          ...legendBase, left: 1400, itemWidth: 40, itemHeight: 5,
          textStyle: legendText(5),
          data: [{ name: "Elevation", icon: "rect" }],
        },
        {
          ...legendBase, left: 1652, itemWidth: 16, itemHeight: 18,
          textStyle: legendText(23),
          data: [{ name: "Remote Valve", icon: "triangle" }],
        },
        {
          ...legendBase, left: 1922, itemWidth: 12, itemHeight: 12,
          textStyle: legendText(28),
          data: [{ name: "Check Valve", icon: "diamond" }],
        },
      ],
      xAxis: {
        type: "value",
        min: KP_MIN,
        max: KP_MAX,
        interval: KP_STEP,
        name: "KP",
        nameLocation: "middle",
        nameGap: 60,
        nameTextStyle: nameStyle,
        axisLine: { show: true, onZero: false, lineStyle: { color: GRID_COLOR, width: 2 } },
        axisTick: { show: true, inside: false, length: 8, lineStyle: { color: GRID_COLOR, width: 2 } },
        axisLabel: { ...axisLabelStyle, margin: 20 },
        splitLine: { show: false },
      },
      yAxis: [
        {
          type: "value",
          min: VOL_MIN,
          max: VOL_MAX,
          interval: VOL_STEP,
          name: "Cumulative Outflow Volume (m³)",
          nameLocation: "middle",
          nameGap: 90,
          nameTextStyle: nameStyle,
          axisLine: { show: true, lineStyle: { color: GRID_COLOR, width: 2 } },
          axisTick: { show: true, inside: false, length: 8, lineStyle: { color: GRID_COLOR, width: 2 } },
          axisLabel: { ...axisLabelStyle, margin: 24 },
          splitLine: { show: true, lineStyle: { color: GRID_COLOR, width: 1.8 } },
        },
        {
          type: "value",
          min: ELEV_MIN,
          max: ELEV_MAX,
          interval: ELEV_STEP,
          position: "right",
          name: "Pipeline Elevation (m)",
          nameLocation: "middle",
          nameGap: 76,
          nameTextStyle: nameStyle,
          axisLine: { show: true, lineStyle: { color: GRID_COLOR, width: 2 } },
          axisTick: { show: true, inside: false, length: 8, lineStyle: { color: GRID_COLOR, width: 2 } },
          axisLabel: { ...axisLabelStyle, margin: 22 },
          splitLine: { show: false },
        },
      ],
      series: [
        {
          name: "Shutdown Volume",
          type: "line",
          yAxisIndex: 0,
          data: shutdownKpRange.map((kp) => [kp, shutdownVolume]),
          symbol: "diamond",
          symbolSize: [14, 11],
          showSymbol: true,
          itemStyle: { color: "#0070C0" },
          lineStyle: { color: "#0070C0", width: 11 },
          z: 2,
        },
        {
          name: "Draindown Volume",
          type: "scatter",
          yAxisIndex: 0,
          data: draindownVolume,
          symbol: "diamond",
          symbolSize: [13, 11],
          itemStyle: { color: "#002060", opacity: 1 },
          z: 3,
        },
        {
          name: "Elevation",
          type: "line",
          yAxisIndex: 1,
          data: elevation,
          showSymbol: false,
          symbol: "none",
          lineStyle: { color: "#77933C", width: 3.2 },
          itemStyle: { color: "#77933C" },
          z: 4,
        },
        {
          name: "Remote Valve",
          type: "scatter",
          yAxisIndex: 1,
          data: remoteValves,
          symbol: "triangle",
          symbolSize: [26, 24],
          itemStyle: { color: "#8064A2", opacity: 1 },
          z: 5,
        },
        {
          name: "Check Valve",
          type: "scatter",
          yAxisIndex: 1,
          data: checkValves,
          symbol: "diamond",
          symbolSize: [24, 20],
          itemStyle: { color: "#4BACC6", opacity: 1 },
          z: 6,
        },
      ],
    });

    return () => chart.dispose();
  }, []);

  return (
    <div
      ref={ref}
      style={{ position: "fixed", left: 0, top: 0, width: 2899, height: 1140, background: "#fff" }}
    />
  );
}
